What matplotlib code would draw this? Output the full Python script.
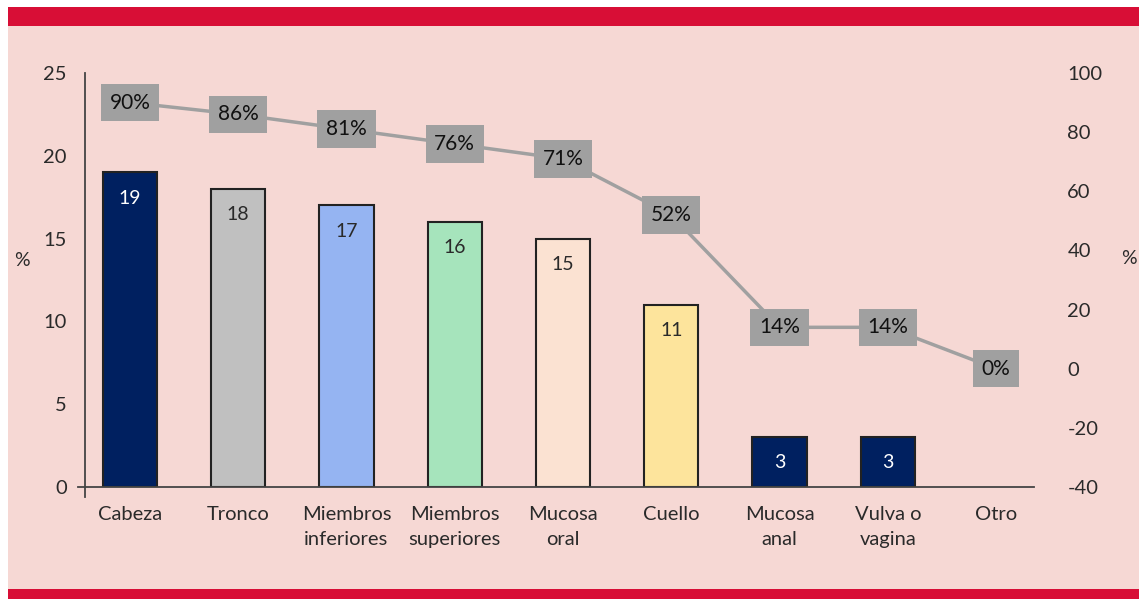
import numpy as np
import matplotlib.pyplot as plt
from matplotlib.patches import Rectangle

plt.rcParams['font.family'] = ['Lato', 'DejaVu Sans']
plt.rcParams['axes.unicode_minus'] = False

# data
categories = ["Cabeza", "Tronco", "Miembros\ninferiores", "Miembros\nsuperiores",
              "Mucosa\noral", "Cuello", "Mucosa\nanal", "Vulva o\nvagina", "Otro"]
bar_values = [19, 18, 17, 16, 15, 11, 3, 3, 0]
line_values = [90, 86, 81, 76, 71, 52, 14, 14, 0]
left_ticks = [0, 5, 10, 15, 20, 25]
right_ticks = [-40, -20, 0, 20, 40, 60, 80, 100]

navy = "#002060"
bar_colors = [navy, "#C0C0C0", "#95B4F2", "#A6E4BC", "#FBE2D2", "#FDE49C", navy, navy, navy]
pink = "#F6D8D4"
red = "#D80E36"
grey = "#A0A0A0"
txt = "#2a2a2a"

W, H = 1139, 599
fig = plt.figure(figsize=(W / 100, H / 100), dpi=100)
fig.patch.set_facecolor("white")

# pink panel + red bands
fig.add_artist(Rectangle((8 / W, 0), 1, 1 - 7 / H, transform=fig.transFigure,
                         facecolor=pink, edgecolor="none", zorder=-3))
fig.add_artist(Rectangle((8 / W, 1 - 26 / H), 1, 19 / H, transform=fig.transFigure,
                         facecolor=red, edgecolor="none", zorder=-2))
fig.add_artist(Rectangle((8 / W, 0), 1, 10 / H, transform=fig.transFigure,
                         facecolor=red, edgecolor="none", zorder=-2))

ax = fig.add_axes([85 / W, 1 - 487 / H, (1034 - 85) / W, (487 - 73) / H])
ax.set_facecolor("none")
x = np.arange(len(categories))

# skip zero-height bars so no edge line is drawn
nz = [i for i, v in enumerate(bar_values) if v > 0]
ax.bar(x[nz], [bar_values[i] for i in nz], width=0.5, color=[bar_colors[i] for i in nz],
       edgecolor="#222222", linewidth=1.5, zorder=2)
for xi, v, c in zip(x, bar_values, bar_colors):
    if v > 0:
        ax.text(xi, v - 1.55, str(v), ha="center", va="center", fontsize=14,
                color="white" if c == navy else txt, zorder=3)

ax.set_xlim(-0.415, 8.35)
ax.set_ylim(0, 25)
ax.set_yticks(left_ticks)
ax.set_xticks(x)
ax.set_xticklabels(categories, fontsize=14.5, color=txt, linespacing=1.55)
ax.tick_params(axis="x", length=0, pad=14)
ax.tick_params(axis="y", length=0, pad=13, labelsize=14.5, labelcolor=txt)
for s in ["top", "right"]:
    ax.spines[s].set_visible(False)
ax.spines["left"].set_color("#444444")
ax.spines["bottom"].set_color("#444444")
ax.spines["left"].set_linewidth(1.3)
ax.spines["bottom"].set_linewidth(1.3)
ax.spines["left"].set_bounds(-0.6, 25)
ax.plot([-0.48, -0.415], [0, 0], color="#444444", lw=1.3, clip_on=False)

ax2 = ax.twinx()
ax2.set_ylim(-40, 100)
ax2.set_yticks(right_ticks)
ax2.tick_params(axis="y", length=0, pad=24, labelsize=14.5, labelcolor=txt)
for s in ax2.spines.values():
    s.set_visible(False)
ax2.plot(x, line_values, color=grey, lw=2.5, zorder=3)
for xi, v in zip(x, line_values):
    ax2.text(xi, v, f"{v}%", ha="center", va="center", fontsize=15, color="#111111", zorder=4,
             bbox=dict(boxstyle="square,pad=0.42", facecolor=grey, edgecolor="none"))

fig.text(22 / W, 1 - 260 / H, "%", ha="center", va="center", fontsize=14, color=txt)
fig.text(1129 / W, 1 - 258 / H, "%", ha="center", va="center", fontsize=14, color=txt)

fig.savefig("out.png", dpi=100, facecolor=fig.get_facecolor())
